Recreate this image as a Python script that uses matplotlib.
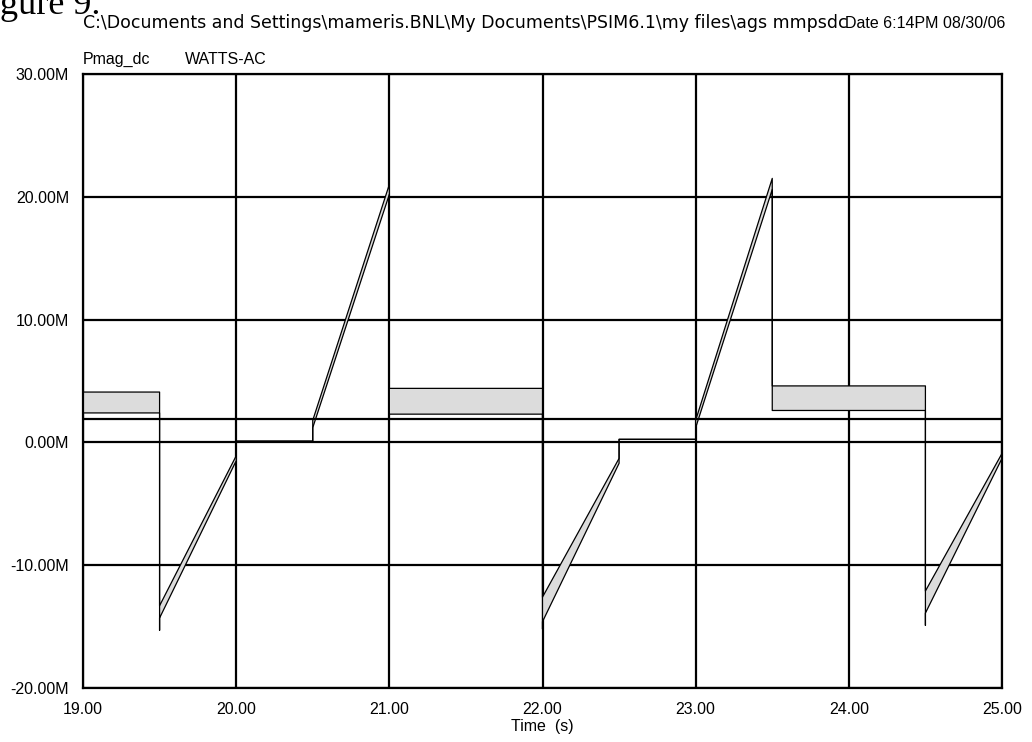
import matplotlib.pyplot as plt

plt.rcParams['font.family'] = ['Liberation Sans', 'DejaVu Sans']

# time breakpoints [s] and envelopes of WATTS-AC [MW]
t_ac = [19.0, 19.5, 19.5, 19.5, 20.0, 20.0, 20.5, 20.5, 21.0, 21.0, 22.0, 22.0,
        22.0, 22.5, 22.5, 23.0, 23.0, 23.5, 23.5, 24.5, 24.5, 24.5, 25.0]
ac_hi = [4.1, 4.1, -13.3, -13.3, -1.1, 0.1, 0.1, 1.8, 21.0, 4.4, 4.4, -12.6,
         -12.6, -1.3, 0.25, 0.25, 1.8, 21.5, 4.6, 4.6, -12.1, -12.1, -0.9]
ac_lo = [2.4, 2.4, -15.3, -14.3, -1.5, 0.1, 0.1, 1.2, 20.2, 2.3, 2.3, -15.2,
         -14.6, -1.7, 0.25, 0.25, 1.2, 20.6, 2.6, 2.6, -14.9, -13.9, -1.3]

# Pmag_dc
t_dc = [19.0, 25.0]
p_dc = [1.9, 1.9]

x_ticks = [19, 20, 21, 22, 23, 24, 25]
x_labels = ['19.00', '20.00', '21.00', '22.00', '23.00', '24.00', '25.00']
y_ticks = [-20, -10, 0, 10, 20, 30]
y_labels = ['-20.00M', '-10.00M', '0.00M', '10.00M', '20.00M', '30.00M']

fig = plt.figure(figsize=(10.32, 7.42), dpi=100)
ax = fig.add_axes([83/1032, 54/742, 919/1032, 614/742])

ax.fill_between(t_ac, ac_lo, ac_hi, facecolor='#dcdcdc', edgecolor='none', zorder=2)
ax.plot(t_ac, ac_hi, color='black', linewidth=0.9, zorder=3)
ax.plot(t_ac, ac_lo, color='black', linewidth=0.9, zorder=3)
ax.plot(t_dc, p_dc, color='black', linewidth=1.6, zorder=3)

ax.set_xlim(19, 25)
ax.set_ylim(-20, 30)
ax.set_xticks(x_ticks)
ax.set_xticklabels(x_labels)
ax.set_yticks(y_ticks)
ax.set_yticklabels(y_labels)
ax.tick_params(length=0, labelsize=11.5, pad=10)
ax.grid(color='black', linewidth=1.6)
for s in ax.spines.values():
    s.set_linewidth(1.6)

fig.text(542/1032, 1 - 727/742, 'Time  (s)', ha='center', va='center', fontsize=11.5)
fig.text(83/1032, 1 - 59/742, 'Pmag_dc', ha='left', va='center', fontsize=11.5)
fig.text(185/1032, 1 - 59/742, 'WATTS-AC', ha='left', va='center', fontsize=11.5)
fig.text(83/1032, 1 - 23/742,
         'C:\\Documents and Settings\\mameris.BNL\\My Documents\\PSIM6.1\\my files\\ags mmpsdc',
         ha='left', va='center', fontsize=12.5, family=['DejaVu Sans'])
fig.text(1005/1032, 1 - 23/742, 'Date 6:14PM 08/30/06', ha='right', va='center',
         fontsize=11.5)
fig.text(0, 1 - 14/742, 'gure 9.', ha='left', va='baseline', fontsize=26,
         family=['Liberation Serif', 'DejaVu Serif'])

plt.savefig('out.png', dpi=100)
plt.close()
